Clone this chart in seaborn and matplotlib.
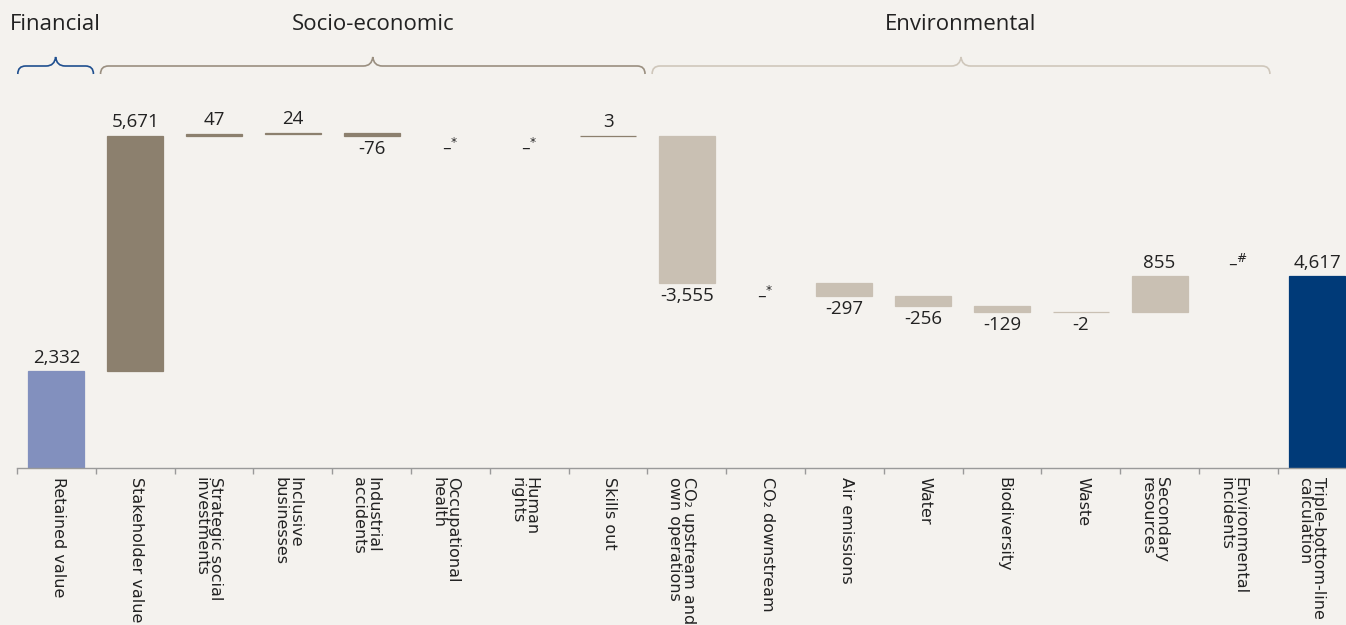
import numpy as np
import pandas as pd
import matplotlib
matplotlib.use("Agg")
import matplotlib.pyplot as plt
import matplotlib.transforms as mtransforms
from matplotlib.path import Path
from matplotlib.patches import PathPatch
import seaborn as sns

# ---------------- data ----------------
categories = [
    "Retained value", "Stakeholder value", "Strategic social\ninvestments",
    "Inclusive\nbusinesses", "Industrial\naccidents", "Occupational\nhealth",
    "Human\nrights", "Skills out", "CO\u2082 upstream and\nown operations",
    "CO\u2082 downstream", "Air emissions", "Water", "Biodiversity", "Waste",
    "Secondary\nresources", "Environmental\nincidents",
    "Triple-bottom-line\ncalculation",
]
values = [2332, 5671, 47, 24, -76, 0, 0, 3, -3555, 0, -297, -256, -129, -2, 855, 0, 4617]
kinds = ["total"] + ["delta"] * 15 + ["total"]
groups = (["Financial"] + ["Socio-economic"] * 7 + ["Environmental"] * 8
          + ["Triple-bottom-line"])
notes = ["", "", "", "", "", "*", "*", "", "", "*", "", "", "", "", "", "#", ""]
group_names = ["Financial", "Socio-economic", "Environmental"]

# ---------------- styles ----------------
BG = "#f4f2ee"
group_colors = {
    "Financial": "#8290be",
    "Socio-economic": "#8c806e",
    "Environmental": "#c9c0b3",
    "Triple-bottom-line": "#003a78",
}
brace_colors = {
    "Financial": "#1f4f8f",
    "Socio-economic": "#9a8f80",
    "Environmental": "#cfc7bb",
}
TEXT = "#222222"

sns.set_theme(style="white")
plt.rcParams["font.family"] = ["Open Sans", "DejaVu Sans"]

# waterfall geometry
bottoms, heights = [], []
cum = 0
for v, k in zip(values, kinds):
    if k == "total":
        bottoms.append(0)
        heights.append(v)
        cum = v
    else:
        bottoms.append(cum)
        heights.append(v)
        cum += v

df = pd.DataFrame({"category": categories, "height": heights,
                   "bottom": bottoms, "group": groups, "value": values})

W, H, DPI = 1346, 625, 100
fig = plt.figure(figsize=(W / DPI, H / DPI), dpi=DPI, facecolor=BG)
cat_w = 78.8
ax_left = 17
ax_bottom = 625 - 468
ax_h = 378
ax = fig.add_axes([ax_left / W, ax_bottom / H, cat_w * len(categories) / W, ax_h / H])
ax.set_facecolor(BG)

facecolors = [group_colors[g] for g in groups]
edgecolors = [group_colors[g] if v != 0 else "none" for g, v in zip(groups, values)]
sns.barplot(data=df, x="category", y="height", order=categories, ax=ax,
            errorbar=None, width=0.71, color=group_colors["Socio-economic"],
            bottom=df["bottom"].to_numpy(),
            facecolor=facecolors, edgecolor=edgecolors, linewidth=0.9,
            saturation=1)

ax.set_xlim(-0.5, len(categories) - 0.5)
ax.set_ylim(0, 9100)
ax.set_xlabel("")
ax.set_ylabel("")
ax.set_yticks([])
for s in ["left", "right", "top"]:
    ax.spines[s].set_visible(False)
ax.spines["bottom"].set_color("#9a9a9a")
ax.spines["bottom"].set_linewidth(1.0)

# ticks at category boundaries
ax.set_xticks(np.arange(len(categories)))
ax.set_xticklabels([])
ax.tick_params(axis="x", which="major", length=0)
ax.set_xticks(np.arange(-0.5, len(categories) - 0.5, 1.0), minor=True)
ax.tick_params(axis="x", which="minor", length=4, width=1.0, color="#9a9a9a",
               direction="out", bottom=True)

# category labels (first line centred on the category)
lab_size = 11.5
off = mtransforms.ScaledTranslation(lab_size * 0.58 / 72, -9 / DPI, fig.dpi_scale_trans)
btrans = mtransforms.blended_transform_factory(ax.transData, ax.transAxes)
for i, c in enumerate(categories):
    ax.text(i, 0, c, transform=btrans + off, rotation=-90, rotation_mode="anchor",
            ha="left", va="top", fontsize=lab_size, color=TEXT,
            fontfamily="DejaVu Sans", linespacing=0.95, clip_on=False)

# value labels
prev_sign = 1
for i, (v, b, h, n) in enumerate(zip(values, bottoms, heights, notes)):
    if v == 0:
        txt = "\u2013$^{" + ("\\#" if n == "#" else n) + "}$"
        level = b
        up = prev_sign > 0
        fs = 12.5
    else:
        txt = f"{v:,}"
        level = b + h
        up = v > 0
        prev_sign = 1 if v > 0 else -1
        fs = 13.5
    ax.annotate(txt, (i, level), xytext=(0, 3 if up else -3),
                textcoords="offset points", ha="center",
                va="bottom" if up else "top", fontsize=fs, color=TEXT,
                annotation_clip=False)

# group braces and headers
btf = mtransforms.blended_transform_factory(ax.transData, fig.transFigure)
y_line = 1 - 66 / H
y_end = 1 - 74 / H
y_peak = 1 - 57 / H
r = 0.1
d = 0.12
for g in group_names:
    idx = [i for i, gg in enumerate(groups) if gg == g]
    x0 = idx[0] - 0.5 + (0.01 if g == "Financial" else 0.06)
    x1 = idx[-1] + 0.5 - (0.03 if g != "Environmental" else 0.1)
    m = (x0 + x1) / 2
    verts = [(x0, y_end), (x0, y_line), (x0 + r, y_line),
             (m - d, y_line), (m - d * 0.1, y_line), (m, y_peak),
             (m + d * 0.1, y_line), (m + d, y_line),
             (x1 - r, y_line), (x1, y_line), (x1, y_end)]
    codes = [Path.MOVETO, Path.CURVE3, Path.CURVE3,
             Path.LINETO, Path.CURVE3, Path.CURVE3,
             Path.CURVE3, Path.CURVE3,
             Path.LINETO, Path.CURVE3, Path.CURVE3]
    patch = PathPatch(Path(verts, codes), transform=btf, fill=False,
                      edgecolor=brace_colors[g], linewidth=1.2, clip_on=False)
    fig.add_artist(patch)
    ax.text(m, 1 - 24 / H, g, transform=btf, ha="center", va="center",
            fontsize=16, color=TEXT, clip_on=False)

fig.savefig("out.png", dpi=DPI, facecolor=BG)
